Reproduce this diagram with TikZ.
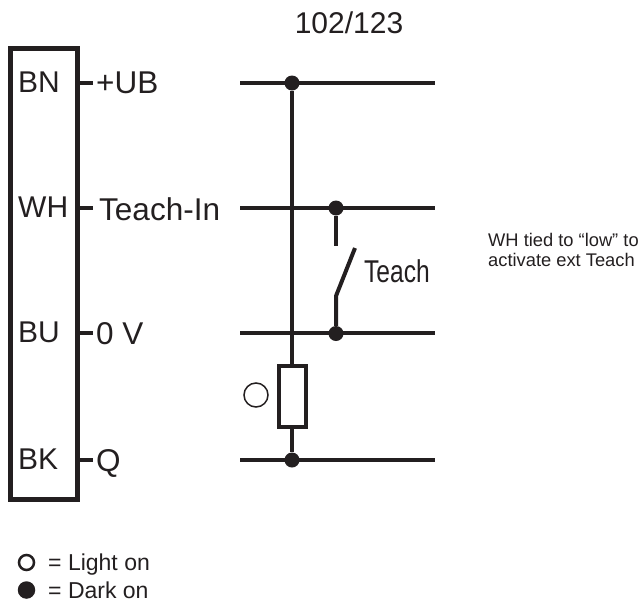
\documentclass[tikz,border=0pt]{standalone}
\usepackage{fontspec}
\setmainfont{Liberation Sans}
\definecolor{ink}{HTML}{231F20}
\begin{document}
\begin{tikzpicture}
		[x=1pt,y=-1pt,%%%%%%%%%%%%%%%%%%%%%%%%%%%%%%
		wire/.style={draw=ink,line width=4pt},
		dot/.style={circle,fill=ink,inner sep=0pt,minimum size=15pt},
		pinlabel/.style={inner sep=0pt,text=ink,anchor=base west,font=\fontsize{30}{30}\selectfont},
		siglabel/.style={inner sep=0pt,text=ink,anchor=base west,font=\fontsize{31.5}{31.5}\selectfont},
		small/.style={inner sep=0pt,text=ink,anchor=base west,font=\fontsize{18.3}{18.3}\selectfont},
		legend/.style={inner sep=0pt,text=ink,anchor=base west,font=\fontsize{23}{23}\selectfont},
		]%%%%%%%%%%%%%%%%%%%%%%%%%%%%%%
		\useasboundingbox (0,0) rectangle (640,606);
		
		% sensor block
		\node[draw=ink,line width=4.5pt,minimum width=67pt,minimum height=451pt,inner sep=0pt,anchor=north west] (sensor) at (8,46){};
		\node[pinlabel,anchor=base] (title) at (349,33) {102/123};
		
		\foreach \pinname/\y/\lab/\x/\dy/\sig in {BN/83/+UB/96/10/ub,WH/208/Teach-In/99/12/in,BU/333/0 V/96/11/gnd,BK/460/Q/96/11/q}{
			\node[pinlabel] (\sig pinname) at (18,\y+9) {\pinname};
			\node[siglabel] (\sig label) at (\x,\y+\dy) {\lab};
			\coordinate (\sig stub) at (79,\y);
			\coordinate (\sig end) at (93,\y);
			\coordinate (\sig l) at (240,\y);
			\coordinate (\sig r) at (435,\y);
			\draw[wire] (\sig stub) -- (\sig end);
			\draw[wire] (\sig l) -- (\sig r);
		}
		
		% junctions
		\node[dot] (ubdot) at (292,83){};
		\node[dot] (indot) at (336,208){};
		\node[dot] (gnddot) at (336,333.5){};
		\node[dot] (qdot) at (292,460){};
		
		% load
		\node[draw=ink,line width=4pt,fill=white,minimum width=27.5pt,minimum height=61pt,inner sep=0pt] (load) at (292.5,396.5){};
		\node[circle,draw=ink,line width=1.5pt,minimum size=24pt,inner sep=0pt] (lamp) at (256,395){};
		\draw[wire] (ubdot) -- (load.north -| ubdot);
		\draw[wire] (load.south -| qdot) -- (qdot);
		
		% switch
		\coordinate (contact) at (336,246);
		\coordinate (hinge) at (336,296);
		\coordinate (blade) at (355,248);
		\draw[wire] (indot) -- (contact);
		\draw[wire] (gnddot) -- (hinge) -- (blade);
		\node[siglabel,xscale=0.78] (teach) at (364,282.5) {Teach};
		
		% note
		\node[small] (note1) at (488,246) {WH tied to “low” to};
		\node[small] (note2) at (488,266) {activate ext Teach};
		
		% legend
		\node[circle,draw=ink,line width=2.5pt,minimum size=15pt,inner sep=0pt] (lighton) at (26.5,562.5){};
		\node[dot,minimum size=17.5pt] (darkon) at (26.5,590){};
		\node[legend] (lighttext) at (48,570) {= Light on};
		\node[legend] (darktext) at (48,598) {= Dark on};
		\end{tikzpicture}
\end{document}
